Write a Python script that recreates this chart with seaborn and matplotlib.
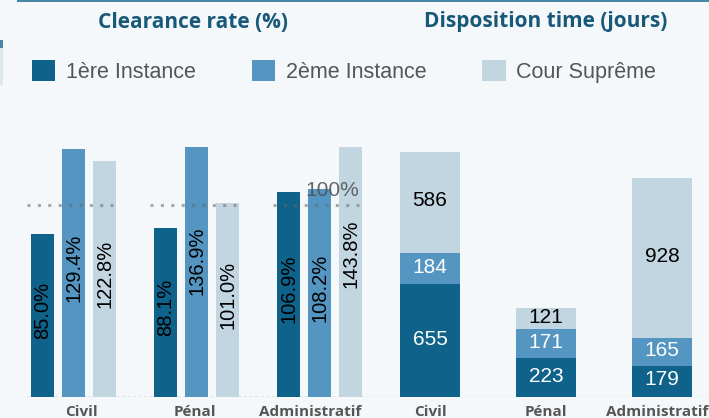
import pandas as pd
import matplotlib.pyplot as plt
import matplotlib.patches as mpatches
import seaborn as sns

# Data
matieres = ["Civil", "Pénal", "Administratif"]
instances = ["1ère Instance", "2ème Instance", "Cour Suprême"]

clearance_1ere = [85.0, 88.1, 106.9]
clearance_2eme = [129.4, 136.9, 108.2]
clearance_cs = [122.8, 101.0, 143.8]

dispo_1ere = [655, 223, 179]
dispo_2eme = [184, 171, 165]
dispo_cs = [586, 121, 928]

colors = ["#0f6289", "#5496c1", "#c2d6e1"]
bg = "#f5f8fa"
title_color = "#185878"
grey_txt = "#555555"

sns.set_theme(style="white")
plt.rcParams["font.family"] = ["Liberation Sans", "DejaVu Sans"]

# Long format table for the clearance chart
clear_df = pd.DataFrame({
    "matiere": matieres * 3,
    "instance": [instances[0]] * 3 + [instances[1]] * 3 + [instances[2]] * 3,
    "rate": clearance_1ere + clearance_2eme + clearance_cs,
})

fig = plt.figure(figsize=(7.09, 4.18), dpi=100)
fig.patch.set_facecolor(bg)

W, H = 709, 418
ax1 = fig.add_axes([27 / W, 21.3 / H, 336 / W, 249.7 / H])
ax2 = fig.add_axes([360 / W, 21.3 / H, 349 / W, 249.7 / H])
for ax in (ax1, ax2):
    ax.set_facecolor("none")
    sns.despine(ax=ax, left=True, bottom=True)

# ---- Clearance rate ----
sns.barplot(data=clear_df, x="matiere", y="rate", hue="instance",
            palette=colors, width=0.756, gap=0.258, saturation=1,
            linewidth=0, edgecolor="none", ax=ax1, zorder=2)
handles, labels = ax1.get_legend_handles_labels()
ax1.get_legend().remove()

ax1.set_xlim(-0.382, 2.35)
ax1.set_ylim(0, 130.3)
ax1.axhline(0, color="#8a8a8a", ls=(0, (2, 2)), lw=1, zorder=1)

for container, vals in zip(ax1.containers, [clearance_1ere, clearance_2eme, clearance_cs]):
    for bar, v in zip(container, vals):
        ax1.text(bar.get_x() + bar.get_width() / 2, v / 2 + 2.6, f"{v:.1f}%",
                 rotation=90, ha="center", va="center", fontsize=14.5,
                 color="black", zorder=4)

# 100% reference line per group
for i in range(len(matieres)):
    ax1.hlines(100, i - 0.382, i + 0.32, colors="#666666", alpha=0.55,
               lw=2.2, linestyles=(0, (1, 2.4)), zorder=3)
ax1.text(2.10, 107.6, "100%", ha="center", va="center", fontsize=15,
         color="#4d4d4d", alpha=0.85, zorder=4)

ax1.set_xticks([0.057, 0.984, 1.919])
ax1.set_xticklabels(matieres)
ax1.set_yticks([])
ax1.set_xlabel("")
ax1.set_ylabel("")

# ---- Disposition time (stacked) ----
tot_mid = [a + b for a, b in zip(dispo_1ere, dispo_2eme)]
tot_all = [a + b for a, b in zip(tot_mid, dispo_cs)]

for vals, col in zip([tot_all, tot_mid, dispo_1ere], [colors[2], colors[1], colors[0]]):
    sns.barplot(x=matieres, y=vals, color=col, width=0.517, saturation=1,
                linewidth=0, edgecolor="none", ax=ax2, zorder=2)

ax2.set_xlim(-0.603, 2.405)
ax2.set_ylim(0, 1454)
ax2.axhline(0, color="#c8c8c8", ls=(0, (3, 2)), lw=1, zorder=1)

for bar, d, m, c in zip(ax2.containers[0], dispo_1ere, dispo_2eme, dispo_cs):
    x = bar.get_x() + bar.get_width() / 2
    ax2.text(x, d / 2 + 8, str(d), ha="center", va="center", fontsize=15, color="white", zorder=4)
    ax2.text(x, d + m / 2 + 8, str(m), ha="center", va="center", fontsize=15, color="white", zorder=4)
    ax2.text(x, d + m + c / 2 + 8, str(c), ha="center", va="center", fontsize=15, color="black", zorder=4)

ax2.set_xticks([0, 1, 1.96])
ax2.set_xticklabels(matieres)
ax2.set_yticks([])
ax2.set_xlabel("")
ax2.set_ylabel("")

for ax in (ax1, ax2):
    ax.tick_params(axis="x", length=0, pad=6)
    for lab in ax.get_xticklabels():
        lab.set_fontfamily(["Open Sans", "DejaVu Sans"])
        lab.set_fontweight("bold")
        lab.set_fontsize(11)
        lab.set_color(grey_txt)

# Titles
fig.text(193 / W, 1 - 22 / H, "Clearance rate (%)", ha="center", va="center",
         fontsize=15, fontweight="bold", color=title_color, family=["Open Sans", "DejaVu Sans"])
fig.text(546 / W, 1 - 22 / H, "Disposition time (jours)", ha="center", va="center",
         fontsize=15, fontweight="bold", color=title_color, family=["Open Sans", "DejaVu Sans"])

# Legend
leg = fig.legend(handles, labels, loc="center left", bbox_to_anchor=(32 / W, 1 - 71.5 / H),
                 ncol=3, frameon=False, fontsize=15.5, handlelength=1.07, handleheight=1.07,
                 handletextpad=0.51, columnspacing=2.6, borderpad=0, borderaxespad=0)
for t in leg.get_texts():
    t.set_color(grey_txt)

# Dashboard frame bits
fig.add_artist(mpatches.Rectangle((17 / W, 1 - 2 / H), 1, 2 / H, transform=fig.transFigure,
                                  color="#4a87a6", lw=0))
fig.add_artist(mpatches.Rectangle((0, 1 - 48 / H), 3 / W, 8 / H, transform=fig.transFigure,
                                  color="#4a87a6", lw=0))
fig.add_artist(mpatches.Rectangle((0, 1 - 85 / H), 3 / W, 37 / H, transform=fig.transFigure,
                                  color="#dde8ef", lw=0))

fig.savefig("out.png", dpi=100, facecolor=bg)
